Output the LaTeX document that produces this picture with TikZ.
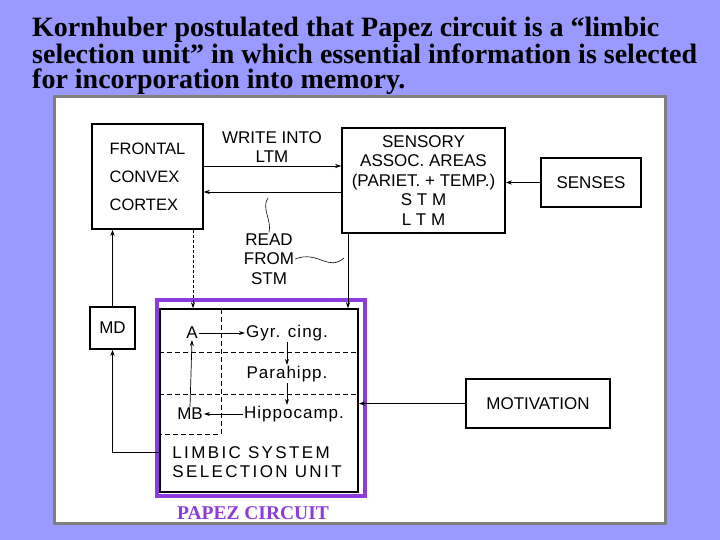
\documentclass[tikz,border=0pt]{standalone}
\usepackage{fontspec}
\setmainfont{Liberation Serif}
\newfontfamily\labfont{Liberation Sans}
\newfontfamily\widefont[LetterSpace=14]{Liberation Sans}
\newfontfamily\smallfont[LetterSpace=6]{Liberation Sans}
\usetikzlibrary{arrows.meta}
\definecolor{lavender}{RGB}{153,153,255}
\definecolor{framegrey}{RGB}{128,128,128}
\definecolor{papez}{RGB}{140,60,220}
\begin{document}
\begin{tikzpicture}[x=1pt,y=-1pt,
  box/.style={draw,line width=1.5pt,inner sep=0pt},
  lab/.style={font=\labfont\fontsize{17}{19.5}\selectfont,align=center,inner sep=1pt},
  inner/.style={lab,font=\smallfont\fontsize{17}{19.5}\selectfont},
  arr/.style={line width=.7pt,-{Stealth[length=6pt,width=4pt]}},
  dashline/.style={line width=.7pt,dash pattern=on 5pt off 3pt}]
\useasboundingbox (0,0) rectangle (720,540);
\fill[lavender] (0,0) rectangle (720,540);
\node[anchor=north west,align=left,font=\bfseries\fontsize{28}{25}\selectfont,inner sep=0pt] (title) at (32,17) {Kornhuber postulated that Papez circuit is a “limbic\\selection unit” in which essential information is selected\\for incorporation into memory.};
\draw[framegrey,line width=3pt,fill=white] (54.5,96.5) rectangle (665.5,523.5);
% boxes
\node[box,lab,minimum width=111pt,minimum height=105pt,align=left,font=\labfont\fontsize{16.5}{28}\selectfont] (frontal) at (147.5,176.5) {FRONTAL\\CONVEX\\CORTEX};
\node[box,lab,minimum width=163pt,minimum height=105pt] (sensory) at (423.5,180.5) {SENSORY\\ASSOC. AREAS\\(PARIET. + TEMP.)\\S T M\\L T M};
\node[box,lab,minimum width=100pt,minimum height=49pt] (senses) at (591,182.5) {SENSES};
\node[box,lab,minimum width=45pt,minimum height=42pt] (md) at (112.5,328) {MD};
\node[box,minimum width=198pt,minimum height=183pt] (limbic) at (259,400.5) {};
\node[box,lab,minimum width=144pt,minimum height=49pt] (motivation) at (538,403.5) {MOTIVATION};
\draw[papez,line width=4pt] (157,300) rectangle (365,496);
% labels
\node[lab] (write) at (272,147) {WRITE INTO\\LTM};
\node[lab] (read) at (269,259) {READ\\FROM\\STM};
\coordinate (wr) at (0,166);
\coordinate (rd) at (0,192);
\coordinate (fx) at (193,0);
\coordinate (sx) at (348,0);
\coordinate (sq1) at (268,198);
\coordinate (sq2) at (344,258);
% connectors
\draw[arr] (frontal.east |- wr) -- (sensory.west |- wr);
\draw[arr] (sensory.west |- rd) -- (frontal.east |- rd);
\draw[line width=.6pt] (sq1) .. controls (261,208) and (272,220) .. (read.north);
\draw[line width=.6pt] (read.east) .. controls (318,250) and (328,272) .. (sq2);
\draw[arr] (senses.west) -- (sensory.east |- senses.west);
\draw[arr,densely dashed] (frontal.south -| fx) -- (limbic.north -| fx);
\draw[arr] (sensory.south -| sx) -- (limbic.north -| sx);
\draw[arr] (md.north) -- (frontal.south -| md.north);
\draw[arr] (limbic.west |- 0,452) -| (md.south);
\draw[arr] (motivation.west) -- (limbic.east |- motivation.west);
% inside the selection unit
\draw[dashline] (limbic.west |- 0,352) -- (limbic.east |- 0,352);
\draw[dashline] (limbic.west |- 0,394) -- (limbic.east |- 0,394);
\draw[dashline] (221,309) -- (221,434) -- (limbic.west |- 0,434);
\node[lab] (a) at (192,333) {A};
\node[inner] (gyr) at (287,333) {Gyr. cing.};
\node[inner] (para) at (287,374) {Parahipp.};
\node[inner] (hippo) at (294,414) {Hippocamp.};
\node[lab] (mb) at (190,414) {MB};
\draw[arr] (a.east) -- (gyr.west);
\draw[arr] (gyr.south) -- (para.north);
\draw[arr] (para.south) -- (para.south |- hippo.north);
\draw[arr] (hippo.west) -- (mb.east);
\draw[arr] (mb.north) -- (a.south);
\node[lab,align=left,font=\widefont\fontsize{17}{19.5}\selectfont] (sel) at (257,462) {LIMBIC SYSTEM\\SELECTION UNIT};
\node[font=\bfseries\fontsize{19.5}{22}\selectfont,text=papez] (circ) at (253,513) {PAPEZ CIRCUIT};
\end{tikzpicture}
\end{document}
